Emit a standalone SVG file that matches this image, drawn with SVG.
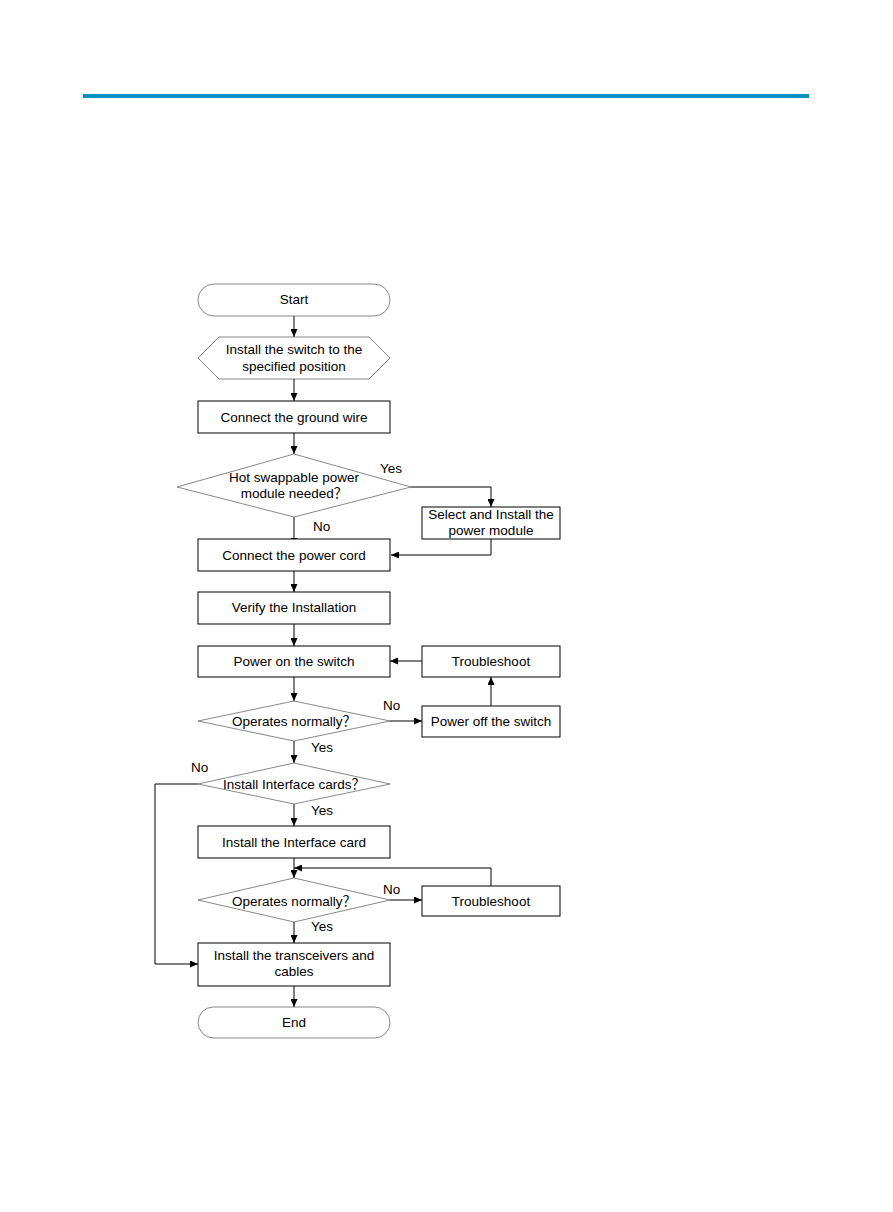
<svg xmlns="http://www.w3.org/2000/svg" width="893" height="1212" viewBox="0 0 893 1212">
<style>
text{font-family:"Liberation Sans",Arial,"Noto Sans CJK SC",sans-serif;font-size:13.5px;fill:#000;text-anchor:middle}
.lbl{text-anchor:start}
.box{fill:#fff;stroke:#000;stroke-width:1}
.thin{fill:#fff;stroke:#555;stroke-width:0.7}
.con{fill:none;stroke:#000;stroke-width:1}
</style>
<defs>
<marker id="ah" markerWidth="8" markerHeight="7" refX="8" refY="3.5" orient="auto" markerUnits="userSpaceOnUse">
<path d="M0,0 L8,3.5 L0,7 Z" fill="#000"/>
</marker>
</defs>
<rect x="83" y="94" width="726" height="4" fill="#0a91c6"/>

<g id="connectors">
<path class="con" d="M294,316 V337" marker-end="url(#ah)"/>
<path class="con" d="M294,379 V401" marker-end="url(#ah)"/>
<path class="con" d="M294,433 V454" marker-end="url(#ah)"/>
<path class="con" d="M411,487 H491 V507" marker-end="url(#ah)"/>
<path class="con" d="M294,517 V546" marker-end="url(#ah)"/>
<path class="con" d="M491,539 V555 H391" marker-end="url(#ah)"/>
<path class="con" d="M294,571 V592" marker-end="url(#ah)"/>
<path class="con" d="M294,624 V646" marker-end="url(#ah)"/>
<path class="con" d="M422,661 H390" marker-end="url(#ah)"/>
<path class="con" d="M294,677 V701" marker-end="url(#ah)"/>
<path class="con" d="M390,721 H422" marker-end="url(#ah)"/>
<path class="con" d="M491,706 V677" marker-end="url(#ah)"/>
<path class="con" d="M294,741 V763" marker-end="url(#ah)"/>
<path class="con" d="M198,784 H155 V964 H198" marker-end="url(#ah)"/>
<path class="con" d="M294,804 V826" marker-end="url(#ah)"/>
<path class="con" d="M294,858 V878" marker-end="url(#ah)"/>
<path class="con" d="M491,886 V868 H294" marker-end="url(#ah)"/>
<path class="con" d="M390,900 H422" marker-end="url(#ah)"/>
<path class="con" d="M294,922 V943" marker-end="url(#ah)"/>
<path class="con" d="M294,986 V1007" marker-end="url(#ah)"/>
<text class="lbl" x="380" y="473">Yes</text>
<text class="lbl" x="313" y="531">No</text>
<text class="lbl" x="383" y="710">No</text>
<text class="lbl" x="311" y="752">Yes</text>
<text class="lbl" x="191" y="772">No</text>
<text class="lbl" x="311" y="815">Yes</text>
<text class="lbl" x="383" y="894">No</text>
<text class="lbl" x="311" y="931">Yes</text>
</g>

<g id="start"><rect class="thin" x="198" y="284" width="192" height="32" rx="16"/><text x="294" y="304">Start</text></g>
<g id="install-switch"><path class="thin" d="M219,337 H369 L390,358 L369,379 H219 L198,358 Z"/><text x="294" y="354">Install the switch to the</text><text x="294" y="371">specified position</text></g>
<g id="ground"><rect class="box" x="198" y="401" width="192" height="32"/><text x="294" y="422">Connect the ground wire</text></g>
<g id="hot-swap"><path class="thin" d="M294,454 L411,487 L294,517 L177,487 Z"/><text x="294" y="482">Hot swappable power</text><text x="294" y="498">module needed？</text></g>
<g id="select-power"><rect class="box" x="422" y="507" width="138" height="32"/><text x="491" y="519">Select and Install the</text><text x="491" y="535">power module</text></g>
<g id="power-cord"><rect class="box" x="198" y="539" width="192" height="32"/><text x="294" y="560">Connect the power cord</text></g>
<g id="verify"><rect class="box" x="198" y="592" width="192" height="32"/><text x="294" y="612">Verify the Installation</text></g>
<g id="power-on"><rect class="box" x="198" y="646" width="192" height="31"/><text x="294" y="666">Power on the switch</text></g>
<g id="troubleshoot1"><rect class="box" x="422" y="646" width="138" height="31"/><text x="491" y="666">Troubleshoot</text></g>
<g id="operates1"><path class="thin" d="M294,701 L390,721 L294,741 L198,721 Z"/><text x="294" y="726">Operates normally？</text></g>
<g id="power-off"><rect class="box" x="422" y="706" width="138" height="31"/><text x="491" y="726">Power off the switch</text></g>
<g id="interface-q"><path class="thin" d="M294,763 L390,784 L294,804 L198,784 Z"/><text x="294" y="789">Install Interface cards？</text></g>
<g id="interface-card"><rect class="box" x="198" y="826" width="192" height="32"/><text x="294" y="847">Install the Interface card</text></g>
<g id="operates2"><path class="thin" d="M294,878 L390,900 L294,922 L198,900 Z"/><text x="294" y="906">Operates normally？</text></g>
<g id="troubleshoot2"><rect class="box" x="422" y="886" width="138" height="30"/><text x="491" y="906">Troubleshoot</text></g>
<g id="transceivers"><rect class="box" x="198" y="943" width="192" height="43"/><text x="294" y="960">Install the transceivers and</text><text x="294" y="976">cables</text></g>
<g id="end"><rect class="thin" x="198" y="1007" width="192" height="31" rx="15.5"/><text x="294" y="1027">End</text></g>
</svg>
